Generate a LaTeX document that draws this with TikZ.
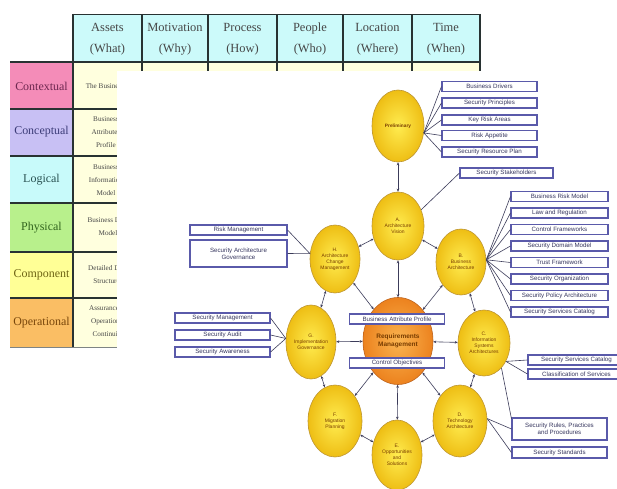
\documentclass[tikz,border=0pt]{standalone}
\usepackage{fontspec}
\setmainfont{Liberation Serif}
\newfontfamily\dsans{Liberation Sans}
\usetikzlibrary{shapes.geometric,arrows.meta}
\definecolor{hdr}{RGB}{204,250,250}
\definecolor{ctx}{RGB}{244,140,184}
\definecolor{cpt}{RGB}{200,192,244}
\definecolor{lgc}{RGB}{200,250,250}
\definecolor{phy}{RGB}{184,240,140}
\definecolor{cmp}{RGB}{255,255,150}
\definecolor{opr}{RGB}{250,190,100}
\definecolor{cellyel}{RGB}{255,255,222}
\definecolor{tline}{RGB}{40,50,50}
\definecolor{ttext}{RGB}{70,70,70}
\definecolor{phin}{RGB}{255,236,80}
\definecolor{phout}{RGB}{238,190,20}
\definecolor{phdraw}{RGB}{190,150,50}
\definecolor{rqin}{RGB}{250,180,80}
\definecolor{rqout}{RGB}{236,130,30}
\definecolor{rqdraw}{RGB}{190,100,30}
\definecolor{bxdraw}{RGB}{90,90,170}
\definecolor{bxtext}{RGB}{55,55,95}
\definecolor{conn}{RGB}{60,60,90}
\definecolor{phtext}{RGB}{120,60,0}
\begin{document}
\begin{tikzpicture}[x=1bp,y=-1bp,
  phase/.style={ellipse, draw=phdraw, line width=0.6bp, inner color=phin, outer color=phout,
    inner sep=0pt, align=center, font=\dsans\fontsize{5}{6}\selectfont, text=phtext,
    minimum width=52bp, minimum height=70bp},
  reqm/.style={ellipse, draw=rqdraw, line width=0.6bp, inner color=rqin, outer color=rqout,
    inner sep=0pt, align=center, font=\dsans\bfseries\fontsize{6.5}{8}\selectfont, text=phtext,
    minimum width=70bp, minimum height=87bp},
  ibox/.style={rectangle, draw=bxdraw, fill=white, line width=1.1bp, inner sep=0pt,
    minimum width=95bp, minimum height=10bp, align=center,
    font=\dsans\fontsize{6.2}{7}\selectfont, text=bxtext},
  link/.style={draw=conn, line width=0.6bp},
  cyc/.style={draw=conn, line width=0.6bp, {Stealth[length=3bp,width=2.6bp]}-{Stealth[length=3bp,width=2.6bp]}},
  hdrtxt/.style={align=center, text=ttext, font=\fontsize{12.5}{21}\selectfont, inner sep=0pt},
  rowtxt/.style={align=center, font=\fontsize{12}{14}\selectfont, inner sep=0pt},
  datatxt/.style={align=center, text=ttext, font=\fontsize{7.2}{13}\selectfont, inner sep=0pt},
  thick line/.style={draw=tline, line width=1.6bp}
]
\useasboundingbox (0,0) rectangle (617,489);
\clip (0,0) rectangle (617,489);
% ---------------- table ----------------
\fill[hdr] (73,14) rectangle (480,62);
\fill[cellyel] (73,62) rectangle (480,72);
\fill[ctx] (10,62) rectangle (73,109);
\fill[cpt] (10,109) rectangle (73,156);
\fill[lgc] (10,156) rectangle (73,203);
\fill[phy] (10,203) rectangle (73,252);
\fill[cmp] (10,252) rectangle (73,298);
\fill[opr] (10,298) rectangle (73,347);
\fill[cellyel] (73,62) rectangle (117,347);
\draw[draw=tline, line width=0.9bp] (73,14) -- (480,14);
\foreach \xx in {142,208,277,343,412,480} {\draw[draw=tline, line width=1.3bp] (\xx,14) -- (\xx,72);}
\draw[draw=tline, line width=1.3bp] (73,14) -- (73,347);
\draw[thick line] (10,62) -- (480,62);
\foreach \yy in {109,156,203,252,298} {\draw[thick line] (10,\yy) -- (117,\yy);}
\draw[draw=tline!60, line width=0.8bp] (10,347) -- (117,347);
\node[hdrtxt] (hA) at (107.5,39) {Assets\\(What)};
\node[hdrtxt] (hM) at (175,39) {Motivation\\(Why)};
\node[hdrtxt] (hP) at (242.5,39) {Process\\(How)};
\node[hdrtxt] (hW) at (310,39) {People\\(Who)};
\node[hdrtxt] (hL) at (377.5,39) {Location\\(Where)};
\node[hdrtxt] (hT) at (446,39) {Time\\(When)};
\node[rowtxt, text={rgb,255:red,110;green,40;blue,80}] (r1) at (41.5,86) {Contextual};
\node[rowtxt, text={rgb,255:red,60;green,60;blue,120}] (r2) at (41.5,132) {Conceptual};
\node[rowtxt, text={rgb,255:red,40;green,80;blue,80}] (r3) at (41.5,180) {Logical};
\node[rowtxt, text={rgb,255:red,50;green,100;blue,30}] (r4) at (41.5,228) {Physical};
\node[rowtxt, text={rgb,255:red,110;green,100;blue,20}] (r5) at (41.5,275) {Component};
\node[rowtxt, text={rgb,255:red,120;green,70;blue,10}] (r6) at (41.5,323) {Operational};
\begin{scope}
\clip (73,62) rectangle (117,347);
\node[datatxt] (d1) at (105,86) {The Business};
\node[datatxt] (d2) at (106,132) {Business\\Attributes\\Profile};
\node[datatxt] (d3) at (106,180) {Business\\Information\\Model};
\node[datatxt] (d4) at (108,227) {Business Data\\Model};
\node[datatxt] (d5) at (108,275) {Detailed Data\\Structures};
\node[datatxt] (d6) at (108,322) {Assurance of\\Operational\\Continuity};
\end{scope}
\fill[white] (117,71) rectangle (617,489);
% ---------------- ADM cycle ----------------
\node[phase, minimum height=72bp, font=\dsans\bfseries\fontsize{4.8}{6}\selectfont] (P) at (398,126) {Preliminary};
\node[phase, minimum height=68bp] (A) at (398,226) {A.\\Architecture\\Vision};
\node[phase, minimum width=50bp, minimum height=68bp] (H) at (335,259) {H.\\Architecture\\Change\\Management};
\node[phase, minimum width=50bp, minimum height=66bp] (B) at (461,262) {B.\\Business\\Architecture};
\node[phase, minimum width=50bp, minimum height=74bp] (G) at (311,342) {G.\\Implementation\\Governance};
\node[phase, minimum width=52bp, minimum height=66bp] (C) at (484,343) {C.\\Information\\Systems\\Architectures};
\node[phase, minimum width=54bp, minimum height=72bp] (D) at (460,421) {D.\\Technology\\Architecture};
\node[phase, minimum width=54bp, minimum height=72bp] (F) at (335,421) {F.\\Migration\\Planning};
\node[phase, minimum width=50bp, minimum height=70bp] (E) at (397,455) {E.\\Opportunities\\and\\Solutions};
\node[reqm] (R) at (398,341) {Requirements\\Management};
% cycle connectors
\draw[cyc] (P) -- (A);
\draw[cyc] (A) -- (B);
\draw[cyc] (B) -- (C);
\draw[cyc] (C) -- (D);
\draw[cyc] (D) -- (E);
\draw[cyc] (E) -- (F);
\draw[cyc] (F) -- (G);
\draw[cyc] (G) -- (H);
\draw[cyc] (H) -- (A);
\foreach \n in {A,B,C,D,E,F,G,H} {\draw[cyc] (\n) -- (R);}
% ---------------- boxes ----------------
\node[ibox] (p1) at (489.5,86.5) {Business Drivers};
\node[ibox] (p2) at (489.5,103) {Security Principles};
\node[ibox] (p3) at (489.5,120) {Key Risk Areas};
\node[ibox] (p4) at (489.5,135.5) {Risk Appetite};
\node[ibox] (p5) at (489.5,152) {Security Resource Plan};
\node[ibox, minimum width=93bp] (a1) at (506.5,173) {Security Stakeholders};
\node[ibox, minimum width=97bp] (b1) at (559.5,196.5) {Business Risk Model};
\node[ibox, minimum width=97bp] (b2) at (559.5,213) {Law and Regulation};
\node[ibox, minimum width=97bp] (b3) at (559.5,229.5) {Control Frameworks};
\node[ibox, minimum width=97bp] (b4) at (559.5,246) {Security Domain Model};
\node[ibox, minimum width=97bp] (b5) at (559.5,262.5) {Trust Framework};
\node[ibox, minimum width=97bp] (b6) at (559.5,279) {Security Organization};
\node[ibox, minimum width=97bp] (b7) at (559.5,295.5) {Security Policy Architecture};
\node[ibox, minimum width=97bp] (b8) at (559.5,312) {Security Services Catalog};
\node[ibox, minimum width=97bp] (h1) at (238.5,230) {Risk Management};
\node[ibox, minimum width=97bp, minimum height=27bp] (h2) at (238.5,253.5) {Security Architecture\\Governance};
\node[ibox] (g1) at (222.5,318) {Security Management};
\node[ibox] (g2) at (222.5,335) {Security Audit};
\node[ibox] (g3) at (222.5,352) {Security Awareness};
\node[ibox, minimum width=97bp] (c1) at (576.5,360) {Security Services Catalog};
\node[ibox, minimum width=97bp] (c2) at (576.5,374) {Classification of Services};
\node[ibox, minimum height=22bp] (d1b) at (559.5,429) {Security Rules, Practices\\and Procedures};
\node[ibox, minimum height=11bp] (d2b) at (559.5,452.5) {Security Standards};
\node[ibox] (rq1) at (397,319) {Business Attribute Profile};
\node[ibox] (rq2) at (397,363) {Control Objectives};
% ---------------- box links ----------------
\coordinate (pj) at (P.-15);
\foreach \b in {p1,p2,p3,p4,p5} {\draw[link] (pj) -- (\b.west);}
\draw[link] (A.35) -- (a1.west);
\coordinate (bj) at (B.5);
\foreach \b in {b1,b2,b3,b4,b5,b6,b7,b8} {\draw[link] (bj) -- (\b.west);}
\coordinate (hj) at (H.168);
\draw[link] (hj) -- (h1.east);
\draw[link] (hj) -- (h2.east);
\coordinate (gj) at (G.172);
\foreach \b in {g1,g2,g3} {\draw[link] (gj) -- (\b.east);}
\coordinate (cj) at (C.-40);
\draw[link] (cj) -- (c1.west);
\draw[link] (cj) -- (c2.west);
\draw[link] (C.-55) -- (d1b.168);
\coordinate (dj) at (D.5);
\draw[link] (dj) -- (d1b.west);
\draw[link] (dj) -- (d2b.west);
\end{tikzpicture}
\end{document}
